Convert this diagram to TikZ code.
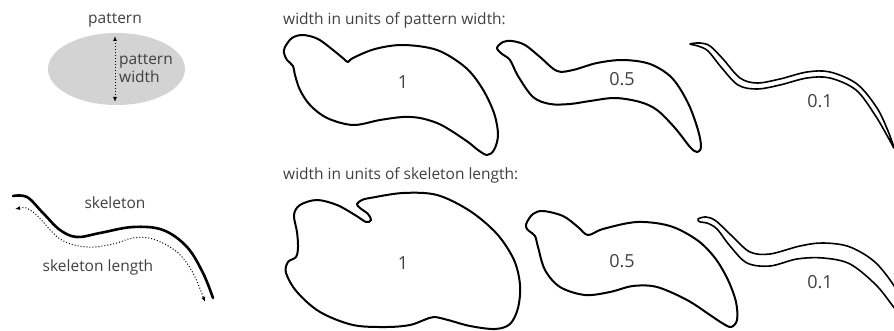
\documentclass[tikz,border=0pt]{standalone}
\usepackage{fontspec}
\setmainfont{Open Sans}
\usetikzlibrary{arrows.meta}
\definecolor{txt}{HTML}{404040}
\definecolor{patfill}{HTML}{D3D3D3}
\tikzset{
  lbl/.style={text=txt, font=\fontsize{15.5}{18}\selectfont, inner sep=0pt},
  num/.style={text=txt, font=\fontsize{18}{19}\selectfont, inner sep=0pt},
  outline/.style={draw=black, line width=2pt, line join=round},
  thinout/.style={draw=black, line width=1.6pt, line join=round},
  measure/.style={dotted, line width=1pt, {Latex[length=5pt,width=4pt]}-{Latex[length=5pt,width=4pt]}},
}
\begin{document}
\begin{tikzpicture}[x=1pt,y=-1pt]
\useasboundingbox (0,0) rectangle (894,331);
\clip (0,0) rectangle (894,331);

% pattern: grey ellipse with its width marked
\node[lbl] (patlabel) at (115,20) {pattern};
\fill[patfill] (116.5,69) ellipse [x radius=68.5, y radius=36];
\coordinate (wtop) at (115,36);
\coordinate (wbot) at (115,102);
\draw[measure] (wtop) -- (wbot);
\node[lbl, anchor=west, align=left] (patwidth) at (119,68) {pattern\\width};

% skeleton and its length
\draw[line width=2.6pt, line cap=round] plot[smooth, tension=0.6] coordinates {
  (13,196) (27,197) (43,213) (60,230) (77,237) (100,233) (133,227) (163,230) (187,247) (203,273) (213,298)};
\draw[measure] plot[smooth, tension=0.6] coordinates {
  (15,209) (33,212) (60,239) (87,247) (113,244) (133,238) (153,239) (177,252) (193,273) (205,302)};
\node[lbl] (skellabel) at (115,203) {skeleton};
\node[lbl] (skellen) at (98,267) {skeleton length};

% headings of the two rows
\node[lbl, anchor=west] (rowA) at (283,20) {width in units of pattern width:};
\node[lbl, anchor=west] (rowB) at (283,175) {width in units of skeleton length:};

% row A: width 1
\draw[outline] plot[smooth cycle, tension=0.55] coordinates {
  (285,47) (292,38) (303,35) (318,39) (333,50) (344,59) (348,62) (353,58) (375,49) (403,45) (437,50)
  (465,67) (482,88) (494,113) (498,135) (494,150) (487,155) (478,150) (468,142) (450,130) (437,123)
  (420,118) (403,117) (380,120) (353,125) (327,118) (310,105) (300,90) (295,75) (293,66) (287,60) (284,53)};
\node[num] (a1) at (403,82) {1};

% row A: width 0.5
\draw[outline] plot[smooth cycle, tension=0.55] coordinates {
  (497,48) (503,42) (512,41) (525,45) (540,57) (557,71) (573,70) (597,63) (623,60) (650,64) (672,78)
  (688,103) (698,130) (701,147) (697,152) (690,147) (675,128) (657,110) (640,102) (615,98) (590,101)
  (570,104) (550,104) (533,97) (518,76) (510,60) (502,54)};
\node[num] (a05) at (622,79) {0.5};

% row A: width 0.1
\draw[thinout] plot[smooth cycle, tension=0.55] coordinates {
  (690,44) (700,43) (710,46) (723,59) (740,78) (757,83) (780,79) (807,72) (830,72) (857,84) (877,108) (888,131) (894,148)
  (889,139) (875,115) (856,90) (830,78) (807,78) (780,85) (757,89) (738,85) (721,67) (708,51) (698,46)};
\node[num] (a01) at (820,101) {0.1};

% row B: width 1
\draw[outline] plot[smooth cycle, tension=0.55] coordinates {
  (362,200) (370,198) (403,193) (437,195) (470,211) (497,234) (514,260) (520,285) (518,308) (510,324)
  (495,329) (470,326) (448,320) (434,317) (424,320) (410,325) (387,327) (353,325) (320,312) (297,292)
  (286,273) (288,262) (296,257) (298,247) (297,232) (294,215) (300,205) (317,200) (337,205) (355,215)
  (366,222) (371,220) (368,214) (360,208) (357,204)};
\node[num] (b1) at (403,263) {1};

% row B: width 0.5
\draw[outline] plot[smooth cycle, tension=0.55] coordinates {
  (527,222) (533,214) (543,211) (563,216) (578,227) (588,235) (603,229) (637,222) (670,226) (697,240)
  (715,258) (728,280) (736,302) (737,320) (731,327) (722,323) (710,315) (687,300) (657,287) (633,286)
  (610,292) (585,295) (560,287) (545,270) (538,247) (535,236) (529,231) (526,227)};
\node[num] (b05) at (622,261) {0.5};

% row B: width 0.1
\draw[thinout] plot[smooth cycle, tension=0.55] coordinates {
  (698,219) (706,217) (716,221) (733,237) (750,252) (770,254) (800,246) (823,243) (850,247) (877,264) (900,296)
  (900,314) (877,286) (850,264) (823,258) (797,259) (770,266) (747,263) (730,246) (717,229) (707,223) (700,222)};
\node[num] (b01) at (820,282) {0.1};
\end{tikzpicture}
\end{document}
